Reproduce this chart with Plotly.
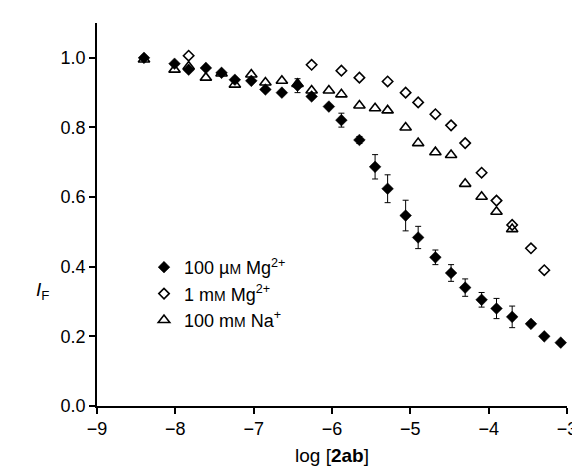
import plotly.graph_objects as go

# 100 µM Mg2+ (filled diamonds)
x_mg100 = [-8.40, -8.01, -7.83, -7.61, -7.41, -7.24, -7.03, -6.85, -6.64, -6.44, -6.26, -6.04,
           -5.88, -5.65, -5.45, -5.29, -5.06, -4.90, -4.68, -4.48, -4.30, -4.09, -3.90, -3.70,
           -3.46, -3.29, -3.08]
y_mg100 = [1.000, 0.983, 0.966, 0.971, 0.957, 0.937, 0.934, 0.909, 0.900, 0.920, 0.889, 0.860,
           0.821, 0.764, 0.687, 0.624, 0.547, 0.484, 0.427, 0.382, 0.340, 0.305, 0.280, 0.256,
           0.236, 0.200, 0.182]
err_mg100 = [0, 0, 0, 0, 0, 0, 0, 0, 0, 0.02, 0, 0,
             0.02, 0.01, 0.035, 0.04, 0.044, 0.032, 0.021, 0.024, 0.025, 0.021, 0.029, 0.031,
             0, 0, 0]

# 1 mM Mg2+ (open diamonds)
x_mg1 = [-7.83, -6.26, -5.88, -5.65, -5.29, -5.06, -4.90, -4.68, -4.48, -4.30, -4.09, -3.90,
         -3.70, -3.46, -3.29]
y_mg1 = [1.006, 0.980, 0.963, 0.943, 0.932, 0.900, 0.872, 0.838, 0.806, 0.755, 0.670, 0.590,
         0.520, 0.453, 0.390]

# 100 mM Na+ (open triangles)
x_na = [-8.40, -8.01, -7.83, -7.61, -7.41, -7.24, -7.03, -6.85, -6.64, -6.44, -6.26, -6.04,
        -5.88, -5.65, -5.45, -5.29, -5.06, -4.90, -4.68, -4.48, -4.30, -4.09, -3.90, -3.70]
y_na = [0.995, 0.966, 0.975, 0.943, 0.955, 0.923, 0.952, 0.929, 0.934, 0.925, 0.906, 0.906,
        0.895, 0.863, 0.855, 0.849, 0.800, 0.755, 0.729, 0.721, 0.638, 0.601, 0.558, 0.508]

x_ticks = [-9, -8, -7, -6, -5, -4, -3]
y_ticks = [0.0, 0.2, 0.4, 0.6, 0.8, 1.0]

SM = "<span style='font-size:14px'>M</span>"
name_mg100 = "100 µ" + SM + " Mg<sup>2+</sup>"
name_mg1 = "1 m" + SM + " Mg<sup>2+</sup>"
name_na = "100 m" + SM + " Na<sup>+</sup>"

fig = go.Figure()
fig.add_trace(go.Scatter(
    x=x_na, y=y_na, mode="markers", name=name_na, legendrank=3,
    marker=dict(symbol="triangle-up-open", size=10, color="black", line=dict(width=1.6, color="black")),
))
fig.add_trace(go.Scatter(
    x=x_mg1, y=y_mg1, mode="markers", name=name_mg1, legendrank=2,
    marker=dict(symbol="diamond-open", size=8, color="black", line=dict(width=1.6, color="black")),
))
fig.add_trace(go.Scatter(
    x=x_mg100, y=y_mg100, mode="markers", name=name_mg100, legendrank=1,
    marker=dict(symbol="diamond", size=9, color="black", line=dict(width=0.5, color="black")),
    error_y=dict(type="data", array=err_mg100, visible=True, color="black", thickness=1, width=3),
))

fig.update_layout(
    width=580, height=466,
    margin=dict(l=89, r=11, t=15, b=65),
    plot_bgcolor="white", paper_bgcolor="white",
    font=dict(family="Liberation Sans, Arial, sans-serif", size=18, color="black"),
    showlegend=True,
    legend=dict(x=0.10, y=0.41, xanchor="left", yanchor="top",
                bgcolor="rgba(0,0,0,0)", itemwidth=30, tracegroupgap=0,
                font=dict(size=18)),
    xaxis=dict(range=[-9, -3], tickvals=x_ticks, ticktext=["−9", "−8", "−7", "−6", "−5", "−4", "−3"],
               showgrid=False, zeroline=False, showline=True, linecolor="black", linewidth=1.5,
               ticks="outside", ticklen=6, tickwidth=1.5, tickcolor="black",
               tickfont=dict(size=18),
               title=dict(text="log [<b>2ab</b>]", standoff=10, font=dict(size=19))),
    yaxis=dict(range=[0, 1.1], tickvals=y_ticks, ticktext=[f"{v:.1f}" for v in y_ticks],
               showgrid=False, zeroline=False, showline=True, linecolor="black", linewidth=1.5,
               ticks="outside", ticklen=6, tickwidth=1.5, tickcolor="black",
               tickfont=dict(size=18)),
    annotations=[dict(text="<i>I</i><sub>F</sub>", x=(33 - 89) / 480, y=(401 - 285) / 386,
                      xref="paper", yref="paper", xanchor="center", yanchor="middle",
                      showarrow=False, font=dict(size=19))],
)

fig.write_html("out.html")
